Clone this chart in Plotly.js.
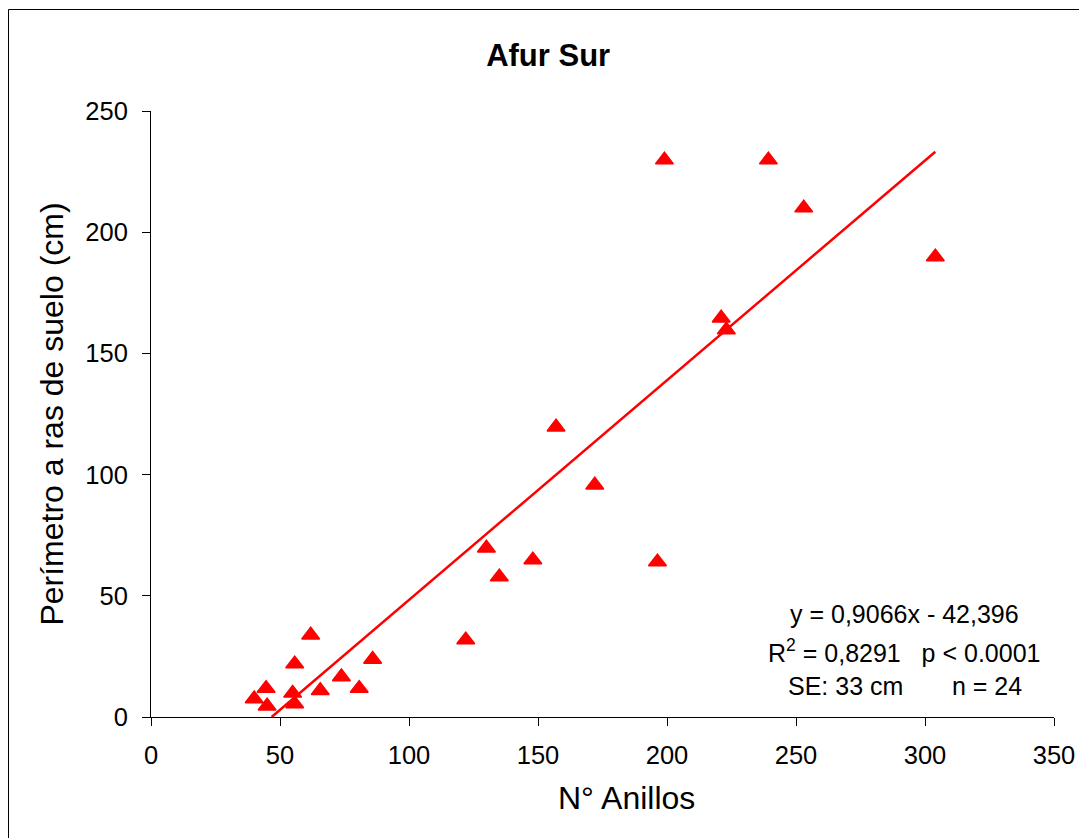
<!DOCTYPE html>
<html>
<head>
<meta charset="utf-8">
<script src="https://cdn.plot.ly/plotly-3.0.1.min.js"></script>
<style>html,body{margin:0;padding:0;background:#fff;} #chart{width:1079px;height:838px;}</style>
</head>
<body>
<div id="chart"></div>
<script>
// Data
const anillos = [40, 44.6, 45, 55.7, 54.9, 55.7, 61.9, 65.6, 73.8, 80.7, 85.9, 122, 130, 135, 148, 157, 172, 196.3, 199, 221, 223, 239.3, 253, 304];
const perimetro = [7.5, 11.8, 4.5, 21.9, 9.8, 5.4, 33.8, 10.9, 16.6, 11.8, 23.8, 31.8, 69.7, 57.8, 64.8, 119.6, 95.7, 64, 229.8, 164.6, 159.7, 229.8, 210, 189.8];
const slope = 0.9066;
const intercept = -42.396;
const xTicks = [0, 50, 100, 150, 200, 250, 300, 350];
const yTicks = [0, 50, 100, 150, 200, 250];

const xStart = -intercept / slope;
const xEnd = Math.max(...anillos);

const font = "Liberation Sans, Arial, sans-serif";

const traces = [
  {
    x: [xStart, xEnd],
    y: [slope * xStart + intercept, slope * xEnd + intercept],
    mode: 'lines',
    line: {color: '#FF0000', width: 2.5},
    hoverinfo: 'skip',
    showlegend: false
  },
  {
    x: anillos,
    y: perimetro,
    mode: 'markers',
    marker: {symbol: 'triangle-up', size: 15.5, color: '#FF0000', line: {color: '#FF0000', width: 1.5}},
    cliponaxis: false,
    showlegend: false
  }
];

const layout = {
  width: 1079,
  height: 838,
  margin: {l: 151, r: 25, t: 111, b: 121, pad: 0},
  paper_bgcolor: '#FFFFFF',
  plot_bgcolor: '#FFFFFF',
  font: {family: font, size: 25, color: '#000000'},
  title: {
    text: '<b>Afur Sur</b>',
    font: {family: font, size: 31, color: '#000000'},
    x: 0.508, xanchor: 'center',
    y: 1 - 55 / 838, yanchor: 'middle'
  },
  xaxis: {
    range: [0, 350],
    tickvals: xTicks,
    ticktext: xTicks.map(String),
    showline: true, linecolor: '#000000', linewidth: 1,
    ticks: 'outside', ticklen: 8, tickcolor: '#000000', tickwidth: 1,
    ticklabelstandoff: 7,
    showgrid: false, zeroline: false,
    tickfont: {family: font, size: 25.5, color: '#000000'}
  },
  yaxis: {
    range: [0, 250],
    tickvals: yTicks,
    ticktext: yTicks.map(String),
    showline: true, linecolor: '#000000', linewidth: 1,
    ticks: 'outside', ticklen: 8, tickcolor: '#000000', tickwidth: 1,
    ticklabelstandoff: 9,
    showgrid: false, zeroline: false,
    tickfont: {family: font, size: 25.5, color: '#000000'},
    title: {text: 'Perímetro a ras de suelo (cm)', font: {family: font, size: 32, color: '#000000'}, standoff: 12}
  },
  annotations: [
    {xref: 'paper', yref: 'paper', x: (626.5 - 151) / 903, y: (717 - 798) / 606, xanchor: 'center', yanchor: 'middle', showarrow: false,
     text: 'N° Anillos', font: {family: font, size: 32, color: '#000000'}},
    {xref: 'paper', yref: 'paper', x: (904 - 151) / 903, y: (717 - 614) / 606, xanchor: 'center', yanchor: 'middle', showarrow: false,
     text: 'y = 0,9066x - 42,396', font: {family: font, size: 25, color: '#000000'}},
    {xref: 'paper', yref: 'paper', x: (904 - 151) / 903, y: (717 - 651) / 606, xanchor: 'center', yanchor: 'middle', showarrow: false,
     text: 'R<sup>2</sup> = 0,8291\u00a0\u00a0\u00a0p < 0.0001', font: {family: font, size: 25, color: '#000000'}},
    {xref: 'paper', yref: 'paper', x: (905 - 151) / 903, y: (717 - 686) / 606, xanchor: 'center', yanchor: 'middle', showarrow: false,
     text: 'SE: 33 cm\u00a0\u00a0\u00a0\u00a0\u00a0\u00a0\u00a0n = 24', font: {family: font, size: 25, color: '#000000'}}
  ],
  shapes: [
    {type: 'rect', xref: 'paper', yref: 'paper',
     x0: (8.5 - 151) / 903, x1: (1090 - 151) / 903,
     y0: (717 - 850) / 606, y1: (717 - 9.5) / 606,
     line: {color: '#000000', width: 1}, fillcolor: 'rgba(0,0,0,0)', layer: 'below'}
  ]
};

Plotly.newPlot('chart', traces, layout, {staticPlot: true, displayModeBar: false});
</script>
</body>
</html>
